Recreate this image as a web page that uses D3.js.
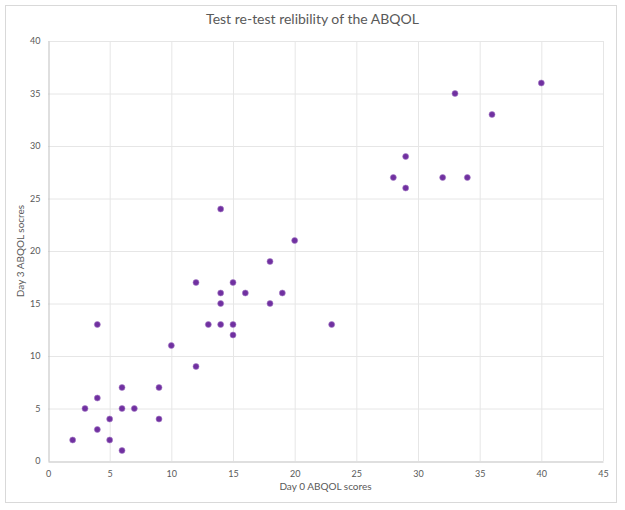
<!DOCTYPE html>
<html>
    <script src="https://d3js.org/d3.v7.min.js"></script>
    <head>
        <style>
            body { margin: 0; background: #fff; }
            text { font-family: Lato, "Open Sans", sans-serif; fill: #595959; }
        </style>
    </head>
    <body>
        <svg id="chart"></svg>
        <script>
            const day0 = [2, 3, 4, 4, 4, 5, 5, 6, 6, 6, 7, 9, 9, 10, 12, 12, 13, 14, 14, 14, 14, 15, 15, 15, 16, 18, 18, 19, 20, 23, 28, 29, 29, 32, 34, 33, 36, 40];
            const day3 = [2, 5, 13, 6, 3, 4, 2, 7, 5, 1, 5, 7, 4, 11, 17, 9, 13, 24, 16, 15, 13, 17, 13, 12, 16, 19, 15, 16, 21, 13, 27, 29, 26, 27, 27, 35, 33, 36];
            const xTicks = d3.range(0, 46, 5);
            const yTicks = d3.range(0, 41, 5);

            const width = 625, height = 510;
            const margin = { top: 41, right: 22, bottom: 49, left: 48 };

            const svg = d3.select("#chart").attr("width", width).attr("height", height);

            svg.append("rect")
                .attr("x", 5.5).attr("y", 5.5)
                .attr("width", 611).attr("height", 497)
                .attr("fill", "#fff").attr("stroke", "#d9d9d9");

            const x = d3.scaleLinear().domain([0, 45]).range([margin.left, width - margin.right]);
            const y = d3.scaleLinear().domain([0, 40]).range([height - margin.bottom, margin.top]);

            // gridlines
            svg.append("g").selectAll("line.v")
                .data(xTicks.slice(1))
                .join("line")
                .attr("x1", d => x(d) + 0.5).attr("x2", d => x(d) + 0.5)
                .attr("y1", y(40)).attr("y2", y(0))
                .attr("stroke", "#e6e6e6");
            svg.append("g").selectAll("line.h")
                .data(yTicks.slice(1))
                .join("line")
                .attr("x1", x(0)).attr("x2", x(45))
                .attr("y1", d => y(d) + 0.5).attr("y2", d => y(d) + 0.5)
                .attr("stroke", "#e6e6e6");

            const xAxis = svg.append("g")
                .attr("transform", `translate(0,${y(0) + 0.5})`)
                .call(d3.axisBottom(x).tickValues(xTicks).tickSize(0).tickPadding(9));
            xAxis.select(".domain").attr("stroke", "#bfbfbf");
            xAxis.selectAll("text").style("font-size", "9px").style("fill", "#595959");

            const yAxis = svg.append("g")
                .attr("transform", `translate(${x(0) + 0.5},0)`)
                .call(d3.axisLeft(y).tickValues(yTicks).tickSize(0).tickPadding(8));
            yAxis.select(".domain").attr("stroke", "#bfbfbf");
            yAxis.selectAll("text").style("font-size", "9px").style("fill", "#595959");

            svg.selectAll("circle")
                .data(day0.map((d, i) => [d, day3[i]]))
                .join("circle")
                .attr("cx", d => x(d[0]))
                .attr("cy", d => y(d[1]))
                .attr("r", 3)
                .attr("fill", "#7030a0")
                .attr("stroke", "#a77fc7")
                .attr("stroke-width", 0.6);

            svg.append("text")
                .attr("x", width / 2).attr("y", 24)
                .attr("text-anchor", "middle")
                .style("font-size", "14px")
                .text("Test re-test relibility of the ABQOL");

            svg.append("text")
                .attr("x", (x(0) + x(45)) / 2).attr("y", 490)
                .attr("text-anchor", "middle")
                .style("font-size", "10px")
                .text("Day 0 ABQOL scores");

            svg.append("text")
                .attr("transform", `translate(24,${(y(0) + y(40)) / 2}) rotate(-90)`)
                .attr("text-anchor", "middle")
                .style("font-size", "10px")
                .text("Day 3 ABQOL socres");
        </script>
    </body>
</html>
